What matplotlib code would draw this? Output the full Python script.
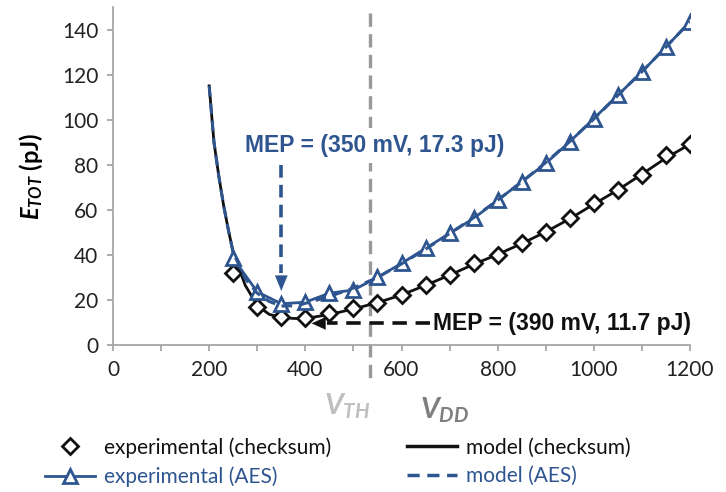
import matplotlib
matplotlib.use("Agg")
import matplotlib.pyplot as plt
from matplotlib.lines import Line2D
from matplotlib.transforms import blended_transform_factory

# ---- data -------------------------------------------------------------
vdd_exp = [250, 300, 350, 400, 450, 500, 550, 600, 650, 700, 750, 800,
           850, 900, 950, 1000, 1050, 1100, 1150, 1200]
etot_exp_checksum = [31.8, 17.0, 12.5, 11.8, 14.1, 16.3, 18.5, 22.2, 26.6, 31.0,
                     36.2, 39.9, 45.1, 50.2, 56.2, 62.8, 68.7, 75.4, 84.3, 89.1]
etot_exp_aes = [38.4, 23.6, 18.3, 19.0, 23.0, 24.4, 30.0, 36.2, 42.9, 49.5,
                56.2, 64.3, 72.4, 80.6, 90.2, 100.5, 110.9, 121.2, 132.3, 143.4]

vdd_model = [200, 210, 220, 230, 240, 250, 275, 300, 325, 350, 375, 390, 400,
             450, 500, 550, 600, 650, 700, 750, 800, 850, 900, 950, 1000,
             1050, 1100, 1150, 1200]
etot_model_checksum = [115, 90, 75, 62, 51, 41, 26.5, 17.5, 13.6, 12.2, 11.8, 11.7,
                       11.8, 13.5, 16.0, 18.8, 22.2, 26.5, 31.0, 35.8, 40.2,
                       45.0, 50.2, 56.0, 62.5, 68.8, 75.8, 83.0, 89.1]
etot_model_aes = [115, 90, 75, 62, 51, 41, 29.5, 23.0, 19.3, 17.3, 17.4, 17.9,
                  18.5, 21.5, 25.3, 30.0, 36.0, 42.5, 49.5, 56.5, 64.3, 72.4,
                  81.0, 90.3, 100.3, 110.8, 121.3, 132.2, 143.5]

mep_aes = (350, 17.3)
mep_checksum = (390, 11.7)
v_th = 535

x_ticks = [0, 200, 400, 600, 800, 1000, 1200]
y_ticks = [0, 20, 40, 60, 80, 100, 120, 140]

# ---- style ------------------------------------------------------------
BLUE = "#2E5590"
BLACK = "#111111"
AXIS_GRAY = "#A6A6A6"
plt.rcParams["font.family"] = ["Lato", "DejaVu Sans"]
plt.rcParams["mathtext.fontset"] = "custom"
plt.rcParams["mathtext.it"] = "Lato:italic:bold"
plt.rcParams["mathtext.rm"] = "Lato:bold"
plt.rcParams["mathtext.bf"] = "Lato:bold"

fig = plt.figure(figsize=(7.26, 4.92), dpi=100)
ax = fig.add_axes([113 / 726, 1 - 345 / 492, (690 - 113) / 726, (345 - 7) / 492])

# ---- series -----------------------------------------------------------
ax.plot(vdd_model, etot_model_checksum, color=BLACK, lw=2.0, zorder=3)
ax.plot(vdd_exp, etot_exp_checksum, ls="none", marker="D", ms=8,
        mfc="white", mec=BLACK, mew=2.0, zorder=4)
ax.plot(vdd_exp, etot_exp_aes, color=BLUE, lw=2.0, marker="^", ms=10,
        mfc="white", mec=BLUE, mew=2.0, zorder=4)
ax.plot(vdd_model, etot_model_aes, color=BLUE, lw=2.2,
        ls=(0, (3.5, 2.2)), zorder=5)

# threshold-voltage marker, running below the axis
trans = blended_transform_factory(ax.transData, ax.transAxes)
ax.plot([v_th, v_th], [0.982, -0.112], transform=trans, color="#999999",
        lw=2.4, ls=(0, (4, 2.2)), clip_on=False, zorder=2)

# ---- MEP annotations --------------------------------------------------
# AES: vertical dashed arrow
ax.plot([mep_aes[0], mep_aes[0]], [80, 32], color=BLUE, lw=2.6,
        ls=(0, (3.5, 2.0)), zorder=6)
ax.annotate("", xy=(mep_aes[0], 24.0), xytext=(mep_aes[0], 33.0),
            arrowprops=dict(arrowstyle="-|>,head_length=1.1,head_width=0.45",
                            color=BLUE, lw=0.1, shrinkA=0, shrinkB=0),
            zorder=6)
ax.text(274, 85.6, f"MEP = ({mep_aes[0]} mV, {mep_aes[1]} pJ)", color=BLUE,
        fontsize=16.5, fontweight="bold", family="Liberation Sans",
        ha="left", va="baseline", zorder=7,
        bbox=dict(boxstyle="square,pad=0.25", fc="white", ec="none"))

# checksum: horizontal dashed arrow
ax.plot([660, 445], [9.6, 9.6], color=BLACK, lw=2.6,
        ls=(0, (4.0, 2.4)), zorder=6)
ax.annotate("", xy=(413, 9.6), xytext=(447, 9.6),
            arrowprops=dict(arrowstyle="-|>,head_length=1.0,head_width=0.45",
                            color=BLACK, lw=0.1, shrinkA=0, shrinkB=0),
            zorder=6)
ax.text(665, 9.6, f"MEP = ({mep_checksum[0]} mV, {mep_checksum[1]} pJ)",
        color=BLACK, fontsize=16.5, fontweight="bold", family="Liberation Sans",
        ha="left", va="center", zorder=7)

# ---- axes -------------------------------------------------------------
ax.set_xlim(0, 1200)
ax.set_ylim(0, 150)
ax.set_xticks(x_ticks)
ax.set_xticks(range(100, 1200, 200), minor=True)
ax.set_yticks(y_ticks)
ax.set_xticklabels([str(t) for t in x_ticks])
ax.set_yticklabels([str(t) for t in y_ticks])
for side in ("top", "right"):
    ax.spines[side].set_visible(False)
for side in ("left", "bottom"):
    ax.spines[side].set_color(AXIS_GRAY)
    ax.spines[side].set_linewidth(1.3)
ax.tick_params(which="both", direction="out", length=4.5, width=1.3,
               color=AXIS_GRAY, labelsize=15, labelcolor="#222222", pad=6)
ax.set_facecolor("none")

ax.set_ylabel(r"$E_{TOT}$ (pJ)", fontsize=17, fontweight="bold", labelpad=12)

fig.text(347 / 726, 1 - 406 / 492, r"$V_{TH}$", color="#BFBFBF", fontsize=21,
         ha="center", va="center")
fig.text(445 / 726, 1 - 410 / 492, r"$V_{DD}$", color="#7F7F7F", fontsize=21,
         ha="center", va="center")

# ---- legend -----------------------------------------------------------
handles = [
    Line2D([], [], ls="none", marker="D", ms=8, mfc="white", mec=BLACK, mew=2.0),
    Line2D([], [], color=BLUE, lw=2.0, marker="^", ms=10, mfc="white",
           mec=BLUE, mew=2.0),
    Line2D([], [], color=BLACK, lw=2.5),
    Line2D([], [], color=BLUE, lw=2.5, ls=(0, (3.5, 2.2))),
]
labels = ["experimental (checksum)", "experimental (AES)",
          "model (checksum)", "model (AES)"]
leg = fig.legend(handles, labels, ncol=2, loc="upper left",
                 bbox_to_anchor=(45 / 726, 1 - 437 / 492), frameon=False,
                 fontsize=15, handlelength=2.4, handletextpad=0.45,
                 columnspacing=3.6, labelspacing=0.42, borderpad=0,
                 borderaxespad=0, numpoints=1)
for txt, lab in zip(leg.get_texts(), labels):
    txt.set_color(BLUE if "AES" in lab else "#111111")

fig.savefig("out.png", dpi=100)
